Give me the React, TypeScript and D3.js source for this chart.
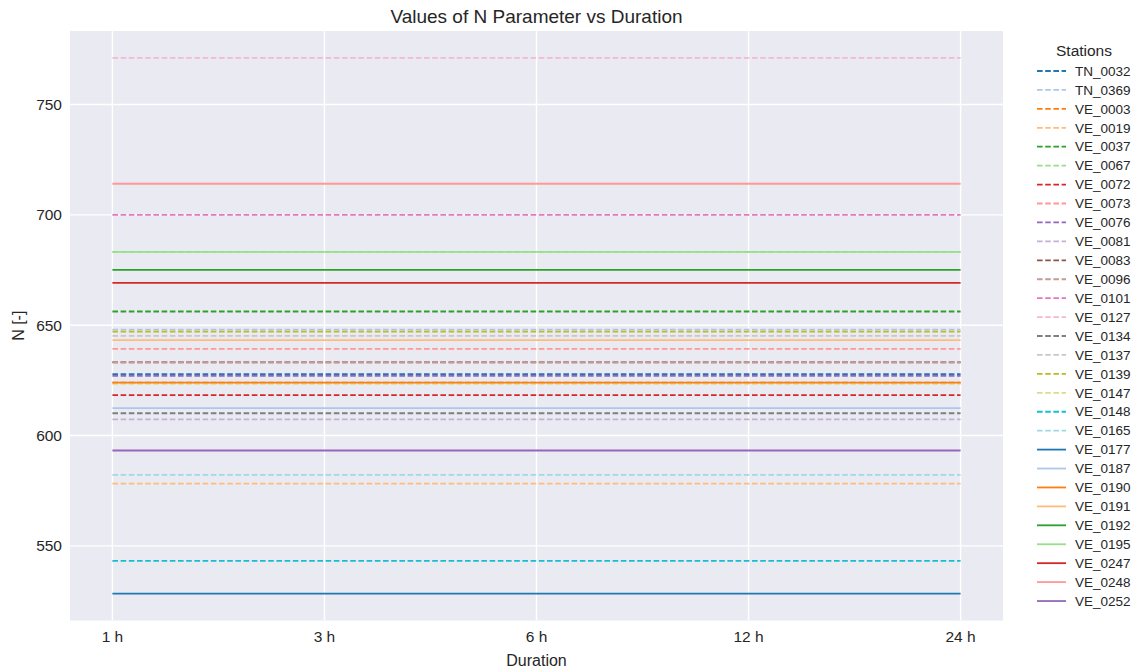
import React from "react";
import * as d3 from "d3";

// Rainfall durations on the x axis
const durations = ["1 h", "3 h", "6 h", "12 h", "24 h"];

// Station identifiers, in legend order
const stations = [
  "TN_0032", "TN_0369", "VE_0003", "VE_0019", "VE_0037", "VE_0067", "VE_0072",
  "VE_0073", "VE_0076", "VE_0081", "VE_0083", "VE_0096", "VE_0101", "VE_0127",
  "VE_0134", "VE_0137", "VE_0139", "VE_0147", "VE_0148", "VE_0165", "VE_0177",
  "VE_0187", "VE_0190", "VE_0191", "VE_0192", "VE_0195", "VE_0247", "VE_0248",
  "VE_0252",
];

// N parameter per station (same value for every duration)
const nValues = [
  627.8, 648.0, 624.0, 578.2, 656.2, 683.2, 618.3,
  639.3, 627.0, 607.3, 633.2, 633.2, 700.0, 771.2,
  610.1, 645.2, 647.1, 623.4, 543.2, 582.2, 528.3,
  612.4, 624.0, 643.2, 675.1, 683.2, 669.2, 714.1,
  593.2,
];

const yTicks = [550, 600, 650, 700, 750];

// tab20 palette
const palette = [
  "#1f77b4", "#aec7e8", "#ff7f0e", "#ffbb78", "#2ca02c", "#98df8a", "#d62728",
  "#ff9896", "#9467bd", "#c5b0d5", "#8c564b", "#c49c94", "#e377c2", "#f7b6d2",
  "#7f7f7f", "#c7c7c7", "#bcbd22", "#dbdb8d", "#17becf", "#9edae5",
];

const W = 1140;
const H = 672;
const plot = { left: 70, right: 1003, top: 31, bottom: 620.5 };
const FONT = "'Liberation Sans', Arial, sans-serif";
const TEXT = "#262626";
const solidFrom = stations.indexOf("VE_0177");

export default function App() {
  const x = d3
    .scalePoint<string>()
    .domain(durations)
    .range([plot.left, plot.right])
    .padding(0.2);

  const yMin = d3.min(nValues)!;
  const yMax = d3.max(nValues)!;
  const pad = (yMax - yMin) * 0.05;
  const y = d3
    .scaleLinear()
    .domain([yMin - pad, yMax + pad])
    .range([plot.bottom, plot.top]);

  const line = d3
    .line<string>()
    .x((d) => x(d)!)
    .y(0);

  const series = stations.map((name, i) => ({
    name,
    value: nValues[i],
    color: palette[i % palette.length],
    dashed: i < solidFrom,
  }));

  const legendX = 1037;
  const legendY0 = 71;
  const legendStep = 18.93;

  return (
    <svg
      width={W}
      height={H}
      style={{ position: "absolute", left: 0, top: 0, background: "#fff" }}
      fontFamily={FONT}
    >
      <rect
        x={plot.left}
        y={plot.top}
        width={plot.right - plot.left}
        height={plot.bottom - plot.top}
        fill="#eaeaf2"
      />
      {/* grid */}
      {yTicks.map((t) => (
        <line
          key={"gy" + t}
          x1={plot.left}
          x2={plot.right}
          y1={y(t)}
          y2={y(t)}
          stroke="#fff"
          strokeWidth={1.4}
        />
      ))}
      {durations.map((d) => (
        <line
          key={"gx" + d}
          x1={x(d)}
          x2={x(d)}
          y1={plot.top}
          y2={plot.bottom}
          stroke="#fff"
          strokeWidth={1.4}
        />
      ))}

      {/* station lines */}
      <g transform="translate(0,0)">
        {series.map((s) => (
          <path
            key={s.name}
            d={line(durations)!}
            transform={`translate(0,${y(s.value)})`}
            fill="none"
            stroke={s.color}
            strokeWidth={1.8}
            strokeDasharray={s.dashed ? "5.6 2.6" : undefined}
          />
        ))}
      </g>

      {/* y tick labels */}
      {yTicks.map((t) => (
        <text
          key={"ty" + t}
          x={62}
          y={y(t)}
          dy="0.35em"
          textAnchor="end"
          fontSize={15.5}
          fill={TEXT}
        >
          {t}
        </text>
      ))}
      {/* x tick labels */}
      {durations.map((d) => (
        <text
          key={"tx" + d}
          x={x(d)}
          y={637}
          dy="0.35em"
          textAnchor="middle"
          fontSize={15.5}
          fill={TEXT}
        >
          {d}
        </text>
      ))}

      <text
        x={(plot.left + plot.right) / 2}
        y={660}
        dy="0.35em"
        textAnchor="middle"
        fontSize={16}
        fill={TEXT}
      >
        Duration
      </text>
      <text
        transform={`translate(18,${(plot.top + plot.bottom) / 2}) rotate(-90)`}
        dy="0.35em"
        textAnchor="middle"
        fontSize={16}
        fill={TEXT}
      >
        N [-]
      </text>
      <text
        x={(plot.left + plot.right) / 2}
        y={16}
        dy="0.35em"
        textAnchor="middle"
        fontSize={19}
        fill={TEXT}
      >
        Values of N Parameter vs Duration
      </text>

      {/* legend */}
      <text
        x={1084}
        y={51}
        dy="0.35em"
        textAnchor="middle"
        fontSize={15.5}
        fill={TEXT}
      >
        Stations
      </text>
      {series.map((s, i) => {
        const ly = legendY0 + i * legendStep;
        return (
          <g key={"lg" + s.name}>
            <line
              x1={legendX}
              x2={legendX + 29}
              y1={ly}
              y2={ly}
              stroke={s.color}
              strokeWidth={1.8}
              strokeDasharray={s.dashed ? "5.6 2.6" : undefined}
            />
            <text
              x={1075}
              y={ly}
              dy="0.35em"
              fontSize={13.5}
              fill={TEXT}
            >
              {s.name}
            </text>
          </g>
        );
      })}
    </svg>
  );
}
